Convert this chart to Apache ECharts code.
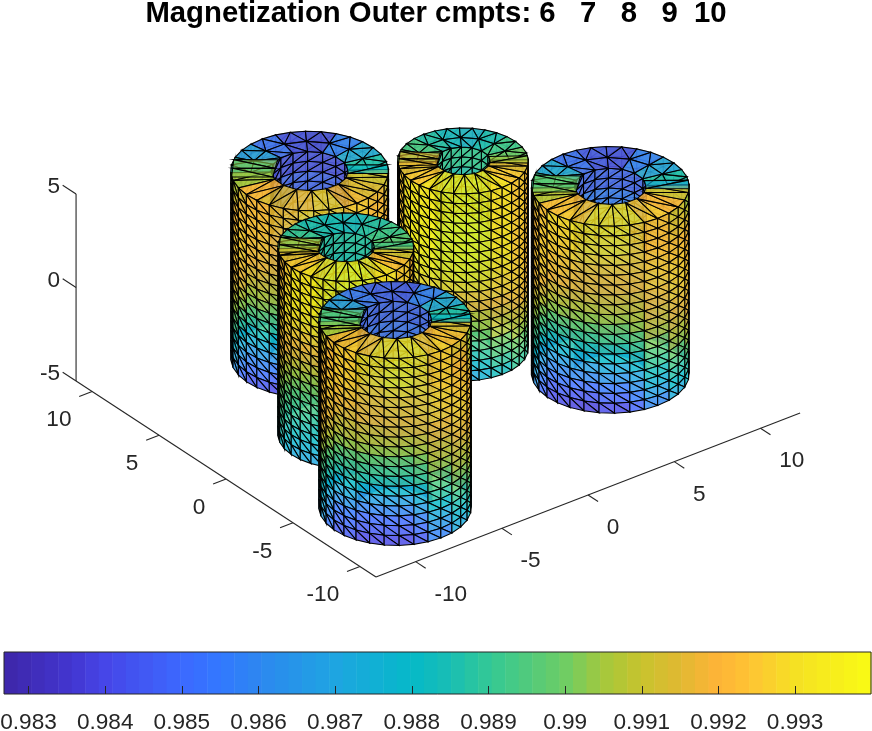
<!DOCTYPE html>
<html><head><meta charset="utf-8">
<style>html,body{margin:0;padding:0;background:#fff}#c{width:872px;height:731px}</style>
<script src="https://cdn.jsdelivr.net/npm/echarts@6/dist/echarts.min.js"></script></head>
<body><div id="c"></div>
<script>
// ---------- chart values ----------
const titleText = 'Magnetization Outer cmpts: 6   7   8   9  10';
const xTicks = [-10,-5,0,5,10], yTicks = [-10,-5,0,5,10], zTicks = [-5,0,5];
const xLim = [-12.3,12.3], yLim = [-11.2,11.2], zLim = [-5,5];
const cbarTicks = [0.983,0.984,0.985,0.986,0.987,0.988,0.989,0.99,0.991,0.992,0.993];
const cbarLim = [0.98268,0.99399];
const cbarStops = [[0.98268,62,38,168],[0.9835,66,52,205],[0.984,70,70,232],[0.985,60,105,255],[0.9855,50,120,255],[0.986,45,135,240],[0.987,30,165,225],[0.988,5,185,200],[0.9885,25,190,180],[0.989,50,200,150],[0.99,110,205,100],[0.9905,165,200,60],[0.991,200,195,45],[0.9915,225,185,50],[0.992,255,180,55],[0.9925,253,200,50],[0.993,245,225,35],[0.99399,249,251,20]];

// cylinders painted back to front: centre x, y, outer radius, hole radius
const cyl1 = [-2.51,6.36,3.62,1.78];
const cyl3 = [3.64,2.83,3.0,1.26];
const cyl4 = [7.59,-3.09,3.62,1.65];
const cyl2 = [-5.44,-0.11,3.12,1.33];
const cyl5 = [-7.7,-6.7,3.5,1.7];

// outer wall, near side: 19 rows top to bottom, 9 sectors left to right
const wall1 = [
[.9908,.9915,.9920,.9925,.9928,.9928,.9925,.9918,.9912],
[.9913,.9918,.9921,.9925,.9928,.9929,.9926,.9920,.9915],
[.9918,.9922,.9922,.9924,.9928,.9930,.9928,.9922,.9918],
[.9921,.9924,.9922,.9922,.9926,.9929,.9928,.9924,.9920],
[.9923,.9925,.9922,.9920,.9924,.9928,.9928,.9925,.9922],
[.9924,.9925,.9921,.9919,.9922,.9926,.9928,.9926,.9923],
[.9924,.9925,.9920,.9918,.9920,.9925,.9927,.9926,.9924],
[.9923,.9923,.9917,.9915,.9917,.9922,.9925,.9926,.9924],
[.9922,.9921,.9914,.9912,.9914,.9919,.9923,.9925,.9924],
[.9918,.9917,.9909,.9907,.9909,.9914,.9920,.9923,.9923],
[.9915,.9910,.9904,.9902,.9904,.9909,.9916,.9921,.9921],
[.9910,.9904,.9898,.9896,.9898,.9904,.9912,.9917,.9918],
[.9905,.9897,.9891,.9889,.9891,.9897,.9906,.9912,.9914],
[.9899,.9889,.9883,.9881,.9883,.9890,.9900,.9907,.9910],
[.9893,.9881,.9875,.9873,.9875,.9882,.9893,.9902,.9905],
[.9886,.9873,.9866,.9864,.9866,.9874,.9886,.9896,.9900],
[.9878,.9865,.9858,.9856,.9858,.9867,.9880,.9891,.9896],
[.9871,.9858,.9851,.9848,.9851,.9860,.9873,.9885,.9891],
[.9864,.9851,.9844,.9840,.9844,.9852,.9866,.9879,.9886]];
const wall2 = [
[.9918,.9926,.9932,.9935,.9936,.9935,.9930,.9925,.9920],
[.9921,.9927,.9932,.9935,.9936,.9935,.9931,.9926,.9922],
[.9924,.9928,.9933,.9935,.9936,.9936,.9932,.9928,.9924],
[.9925,.9929,.9932,.9934,.9935,.9935,.9932,.9928,.9925],
[.9926,.9930,.9930,.9932,.9934,.9934,.9932,.9928,.9925],
[.9926,.9928,.9928,.9929,.9931,.9931,.9930,.9927,.9925],
[.9926,.9926,.9925,.9926,.9928,.9928,.9928,.9926,.9925],
[.9924,.9923,.9921,.9922,.9924,.9925,.9925,.9924,.9924],
[.9921,.9919,.9917,.9917,.9919,.9921,.9922,.9922,.9922],
[.9917,.9914,.9912,.9912,.9914,.9916,.9918,.9919,.9919],
[.9912,.9908,.9906,.9906,.9908,.9910,.9913,.9915,.9916],
[.9907,.9904,.9902,.9902,.9903,.9905,.9909,.9911,.9912],
[.9903,.9900,.9898,.9897,.9898,.9900,.9904,.9907,.9908],
[.9899,.9896,.9894,.9893,.9894,.9896,.9900,.9903,.9904],
[.9896,.9892,.9890,.9889,.9890,.9892,.9896,.9899,.9900],
[.9893,.9889,.9886,.9885,.9886,.9888,.9892,.9895,.9896],
[.9890,.9885,.9882,.9881,.9882,.9884,.9888,.9891,.9892],
[.9886,.9881,.9877,.9876,.9877,.9880,.9884,.9887,.9888],
[.9881,.9876,.9872,.9871,.9872,.9875,.9879,.9883,.9885]];
const wall3 = [
[.9925,.9930,.9934,.9936,.9936,.9934,.9930,.9925,.9922],
[.9925,.9931,.9935,.9937,.9937,.9935,.9930,.9925,.9922],
[.9925,.9932,.9936,.9938,.9938,.9936,.9930,.9926,.9922],
[.9925,.9932,.9936,.9938,.9938,.9936,.9930,.9926,.9922],
[.9925,.9932,.9936,.9938,.9938,.9935,.9930,.9926,.9922],
[.9925,.9931,.9936,.9937,.9937,.9935,.9930,.9925,.9922],
[.9925,.9930,.9935,.9936,.9936,.9934,.9930,.9925,.9922],
[.9925,.9929,.9933,.9934,.9934,.9933,.9929,.9925,.9922],
[.9925,.9928,.9931,.9931,.9931,.9930,.9928,.9925,.9922],
[.9924,.9926,.9928,.9928,.9928,.9928,.9926,.9925,.9922],
[.9923,.9924,.9924,.9924,.9924,.9924,.9925,.9924,.9921],
[.9920,.9920,.9919,.9918,.9918,.9919,.9921,.9922,.9920],
[.9915,.9914,.9912,.9910,.9910,.9912,.9916,.9919,.9918],
[.9908,.9907,.9905,.9903,.9904,.9906,.9911,.9915,.9914],
[.9902,.9900,.9898,.9896,.9898,.9901,.9906,.9911,.9910],
[.9896,.9893,.9891,.9890,.9891,.9895,.9900,.9905,.9905],
[.9889,.9886,.9884,.9883,.9885,.9889,.9895,.9900,.9900],
[.9883,.9880,.9877,.9876,.9878,.9882,.9889,.9895,.9895],
[.9877,.9873,.9871,.9870,.9872,.9876,.9883,.9890,.9890]];
const wall4 = [
[.9915,.9922,.9928,.9930,.9930,.9926,.9918,.9912,.9905],
[.9918,.9924,.9927,.9929,.9929,.9926,.9919,.9914,.9910],
[.9920,.9925,.9926,.9928,.9928,.9925,.9920,.9916,.9915],
[.9921,.9925,.9925,.9926,.9926,.9924,.9921,.9919,.9918],
[.9922,.9925,.9923,.9923,.9923,.9923,.9922,.9922,.9920],
[.9923,.9925,.9922,.9921,.9921,.9921,.9923,.9924,.9922],
[.9923,.9924,.9920,.9919,.9919,.9920,.9923,.9925,.9923],
[.9921,.9921,.9916,.9916,.9916,.9917,.9921,.9925,.9924],
[.9918,.9916,.9911,.9911,.9912,.9914,.9919,.9924,.9924],
[.9914,.9910,.9905,.9905,.9907,.9910,.9916,.9922,.9923],
[.9910,.9903,.9899,.9900,.9901,.9905,.9912,.9919,.9921],
[.9905,.9897,.9892,.9893,.9895,.9899,.9907,.9915,.9919],
[.9900,.9890,.9885,.9886,.9888,.9893,.9901,.9910,.9915],
[.9894,.9883,.9877,.9877,.9880,.9886,.9895,.9905,.9910],
[.9888,.9875,.9868,.9868,.9872,.9879,.9890,.9899,.9905],
[.9881,.9868,.9860,.9860,.9864,.9871,.9883,.9893,.9899],
[.9875,.9861,.9853,.9851,.9855,.9863,.9876,.9887,.9893],
[.9869,.9855,.9846,.9844,.9848,.9856,.9868,.9880,.9887],
[.9864,.9850,.9841,.9838,.9841,.9848,.9860,.9873,.9880]];
const wall5 = [
[.9912,.9918,.9925,.9930,.9932,.9930,.9925,.9915,.9905],
[.9915,.9920,.9925,.9929,.9931,.9929,.9925,.9918,.9909],
[.9918,.9922,.9925,.9928,.9930,.9928,.9925,.9920,.9912],
[.9920,.9923,.9924,.9925,.9927,.9927,.9925,.9922,.9915],
[.9922,.9924,.9922,.9923,.9924,.9925,.9926,.9923,.9918],
[.9922,.9923,.9920,.9921,.9923,.9924,.9925,.9924,.9920],
[.9922,.9922,.9918,.9920,.9921,.9922,.9924,.9925,.9922],
[.9921,.9919,.9915,.9916,.9917,.9918,.9921,.9924,.9922],
[.9920,.9916,.9912,.9912,.9912,.9914,.9918,.9922,.9922],
[.9916,.9911,.9906,.9906,.9906,.9909,.9914,.9919,.9920],
[.9912,.9905,.9900,.9900,.9900,.9903,.9910,.9916,.9918],
[.9906,.9899,.9894,.9894,.9894,.9897,.9905,.9912,.9915],
[.9900,.9893,.9888,.9888,.9888,.9892,.9900,.9908,.9912],
[.9895,.9887,.9880,.9878,.9878,.9884,.9894,.9903,.9907],
[.9890,.9880,.9872,.9868,.9868,.9875,.9888,.9898,.9902],
[.9884,.9872,.9864,.9859,.9859,.9867,.9880,.9891,.9897],
[.9878,.9865,.9855,.9850,.9850,.9858,.9872,.9885,.9892],
[.9873,.9860,.9850,.9845,.9845,.9851,.9865,.9878,.9886],
[.9868,.9855,.9845,.9840,.9840,.9845,.9858,.9872,.9880]];

// top ring: 16 sectors, starting behind the hole, going round the left, the front, the right
const ring1 = [.9840,.9850,.9865,.9885,.9905,.9920,.9915,.9925,.9928,.9918,.9915,.9912,.9885,.9870,.9855,.9838];
const ring2 = [.9880,.9882,.9888,.9895,.9915,.9925,.9930,.9935,.9936,.9930,.9922,.9912,.9895,.9890,.9885,.9878];
const ring3 = [.9878,.9885,.9892,.9900,.9915,.9925,.9932,.9935,.9935,.9932,.9925,.9915,.9898,.9890,.9882,.9875];
const ring4 = [.9842,.9850,.9870,.9890,.9908,.9922,.9925,.9930,.9930,.9925,.9920,.9912,.9885,.9868,.9855,.9840];
const ring5 = [.9845,.9852,.9865,.9888,.9905,.9918,.9925,.9930,.9932,.9926,.9922,.9915,.9885,.9870,.9855,.9843];
// left and right slot in the top ring
const slot1 = [.9903,.9880], slot2 = [.9908,.9893], slot3 = [.9916,.9905], slot4 = [.9900,.9872], slot5 = [.9898,.9880];
// hole wall by row, top to bottom
const hole1 = [.9842,.9848,.9852,.9858,.9865,.9870,.9870,.9868,.9860,.9850];
const hole2 = [.9885,.9882,.9880,.9878,.9878,.9880,.9880,.9878,.9875,.9870];
const hole3 = [.9888,.9884,.9880,.9878,.9880,.9885,.9888,.9888,.9885,.9880];
const hole4 = [.9848,.9855,.9862,.9870,.9875,.9878,.9878,.9874,.9865,.9852];
const hole5 = [.9848,.9852,.9860,.9868,.9875,.9880,.9880,.9875,.9865,.9850];
// far outer wall by row, top to bottom
const back1 = [.9900,.9905,.9908,.9908,.9905,.9900,.9892,.9880,.9865,.9850];
const back2 = [.9905,.9908,.9910,.9910,.9908,.9902,.9896,.9888,.9880,.9870];
const back3 = [.9905,.9910,.9915,.9915,.9912,.9908,.9902,.9895,.9885,.9875];
const back4 = [.9900,.9905,.9908,.9908,.9905,.9900,.9890,.9878,.9862,.9848];
const back5 = [.9900,.9905,.9908,.9908,.9905,.9900,.9890,.9878,.9862,.9848];

// ---------- view ----------
const corner = [376,577], xUnit = [17.24,-6.67], yUnit = [-13.39,-8.75], zUnit = -18.7;
const FACE_ALPHA = 0.82, ROWS = 19, COL_STEP = 11.25, VIEW_FRONT = 232.7;
function project(x,y,z){
  const dx=x-xLim[0], dy=y-yLim[0], dz=z-zLim[0];
  return [corner[0]+dx*xUnit[0]+dy*yUnit[0], corner[1]+dx*xUnit[1]+dy*yUnit[1]+dz*zUnit];
}
function cmap(v){
  const s=cbarStops; if(v<=s[0][0])return s[0].slice(1);
  for(let i=1;i<s.length;i++) if(v<=s[i][0]){const t=(v-s[i-1][0])/(s[i][0]-s[i-1][0]);
    return [1,2,3].map(k=>Math.round(s[i-1][k]+t*(s[i][k]-s[i-1][k])));}
  return s[s.length-1].slice(1);
}
// ---------- mesh ----------
const faces=[];
function tri(v,a,b,c,fa,sa){faces.push({v,p:[a,b,c],fa:fa==null?FACE_ALPHA:fa,sa:sa==null?1:sa});}
function pt(C,r,phi,z){const t=(VIEW_FRONT+phi)*Math.PI/180;return [C[0]+r*Math.cos(t),C[1]+r*Math.sin(t),z];}
function wallBand(C,r,from,count,step,val,lineAlpha){
  for(let c=0;c<count;c++){
    const a=from+c*step,b=a+step,m=(a+b)/2;
    for(let i=0;i<ROWS;i++){
      const zt=5-10*i/ROWS,zb=5-10*(i+1)/ROWS,v=val(i,m),sa=lineAlpha(i);
      const A=pt(C,r,a,zt),B=pt(C,r,b,zt),D=pt(C,r,b,zb),E=pt(C,r,a,zb);
      tri(v,A,B,D,null,sa);tri(v,A,D,E,null,sa);
    }
  }
}
function mix(a,b,t){return [a[0]+(b[0]-a[0])*t,a[1]+(b[1]-a[1])*t,a[2]];}
function addCylinder(C,wall,ring,slot,hole,back){
  const R=C[2],H=C[3],T=zLim[1];
  const tenth=i=>Math.floor(i*10/ROWS);
  wallBand(C,R,92.5,16,COL_STEP,i=>back[tenth(i)],()=>0.35);
  wallBand(C,H,92.5,8,22.5,i=>hole[tenth(i)],i=>i<7?1:0.2);
  for(let s=0;s<16;s++){
    const a=-177.5+22.5*s,b=a+22.5,m=a+11.25,v=ring[s];
    const front=a>=-87.5&&a<92.5, Q=front?H:(H+R)/2;
    tri(v,pt(C,Q,a,T),pt(C,R,a,T),pt(C,R,m,T));
    tri(v,pt(C,Q,a,T),pt(C,R,m,T),pt(C,Q,b,T));
    tri(v,pt(C,Q,b,T),pt(C,R,m,T),pt(C,R,b,T));
    if(!front){
      tri(v,pt(C,H,a,T),pt(C,Q,a,T),pt(C,Q,b,T));
      tri(v,pt(C,H,a,T),pt(C,Q,b,T),pt(C,H,b,T));
    }
  }
  // slots: [outer upper, hole upper, hole lower, outer lower], in stripes
  const ls=[-106.7,-125,-72.5,-81.5], rs=[99,108.4,83,86.5], stripes=[2,1];
  [ls,rs].forEach((q,k)=>{
    const v=slot[k],n=stripes[k],a=pt(C,R,q[0],T),b=pt(C,H,q[1],T),c=pt(C,H,q[2],T),d=pt(C,R,q[3],T);
    for(let j=0;j<n;j++){
      const p1=mix(a,d,j/n),p2=mix(b,c,j/n),p3=mix(b,c,(j+1)/n),p4=mix(a,d,(j+1)/n);
      tri(v,p1,p2,p3,0.6);tri(v,p1,p3,p4,0.6);
    }
  });
  wallBand(C,R,-87.5,16,COL_STEP,(i,m)=>wall[i][Math.min(8,Math.max(0,Math.floor((m+90)/20)))],()=>1);
}
addCylinder(cyl1,wall1,ring1,slot1,hole1,back1);
addCylinder(cyl3,wall3,ring3,slot3,hole3,back3);
addCylinder(cyl4,wall4,ring4,slot4,hole4,back4);
addCylinder(cyl2,wall2,ring2,slot2,hole2,back2);
addCylinder(cyl5,wall5,ring5,slot5,hole5,back5);

// ---------- 3D axes ----------
const [x0,x1]=xLim,[y0,y1]=yLim,[z0,z1]=zLim;
const axisSegs=[[[x0,y0,z0],[x1,y0,z0]],[[x0,y0,z0],[x0,y1,z0]],[[x0,y1,z0],[x0,y1,z1]]];
const axisTexts=[];
xTicks.forEach(t=>{axisSegs.push([[t,y0,z0],[t,y0-0.75,z0]]);axisTexts.push({t:String(t),p:[t,y0-1.4,z0-1.1],a:'left'});});
yTicks.forEach(t=>{axisSegs.push([[x0,t,z0],[x0-0.75,t,z0]]);axisTexts.push({t:String(t),p:[x0-1.2,t,z0-1.1],a:'right'});});
zTicks.forEach(t=>{axisSegs.push([[x0,y1,t],[x0,y1+1,t]]);axisTexts.push({t:String(t),p:[x0,y1+1.2,t-0.2],a:'right'});});

const FONT='"Liberation Sans",Arial,sans-serif';
const cbarN=64, cbarCells=[];
for(let i=0;i<cbarN;i++) cbarCells.push([i]);

const chart=echarts.init(document.getElementById('c'),null,{renderer:'canvas'});
chart.setOption({
  animation:false,
  backgroundColor:'#fff',
  title:{text:titleText,left:'center',top:-6,textStyle:{fontFamily:FONT,fontSize:29.3,fontWeight:'bold',color:'#000'}},
  grid:[
    {left:0,top:0,width:872,height:731,show:false,outerBoundsMode:'none'},
    {left:4,top:652,width:867,height:42,show:true,borderColor:'#262626',borderWidth:1,backgroundColor:'transparent',z:10,outerBoundsMode:'none'}
  ],
  xAxis:[
    {gridIndex:0,type:'value',min:0,max:872,show:false},
    {gridIndex:1,type:'value',min:cbarLim[0],max:cbarLim[1],z:11,
      axisLine:{show:false},splitLine:{show:false},
      axisTick:{show:true,inside:true,length:8,lineStyle:{color:'#262626',width:1},customValues:cbarTicks},
      axisLabel:{show:true,margin:17,fontFamily:FONT,fontSize:22.6,color:'#262626',customValues:cbarTicks,formatter:v=>String(v)}}
  ],
  yAxis:[
    {gridIndex:0,type:'value',min:0,max:731,inverse:true,show:false},
    {gridIndex:1,type:'value',min:0,max:1,show:false}
  ],
  series:[
    {type:'custom',xAxisIndex:0,yAxisIndex:0,silent:true,z:1,progressive:0,clip:false,
     data:axisSegs.map((s,i)=>[i]),
     renderItem:(params,api)=>{const s=axisSegs[api.value(0)];
       const a=api.coord(project(...s[0])),b=api.coord(project(...s[1]));
       return {type:'line',shape:{x1:a[0],y1:a[1],x2:b[0],y2:b[1]},style:{stroke:'#262626',lineWidth:1.1}};}},
    {type:'custom',xAxisIndex:0,yAxisIndex:0,silent:true,z:2,progressive:0,clip:false,
     data:faces.map((f,i)=>[i]),
     renderItem:(params,api)=>{const f=faces[api.value(0)];
       const c=cmap(f.v);
       return {type:'polygon',shape:{points:f.p.map(q=>api.coord(project(...q)))},
         style:{fill:`rgba(${c[0]},${c[1]},${c[2]},${f.fa})`,stroke:`rgba(0,0,0,${f.sa})`,lineWidth:1.05}};}},
    {type:'custom',xAxisIndex:0,yAxisIndex:0,silent:true,z:3,progressive:0,clip:false,
     data:axisTexts.map((s,i)=>[i]),
     renderItem:(params,api)=>{const s=axisTexts[api.value(0)];const a=api.coord(project(...s.p));
       return {type:'text',style:{text:s.t,x:a[0],y:a[1],align:s.a,verticalAlign:'middle',fill:'#262626',font:'22.6px '+FONT}};}},
    {type:'custom',xAxisIndex:1,yAxisIndex:1,silent:true,z:1,progressive:0,
     data:cbarCells,
     renderItem:(params,api)=>{const i=api.value(0),w=(cbarLim[1]-cbarLim[0])/cbarN;
       const lo=cbarLim[0]+i*w,hi=lo+w;const a=api.coord([lo,1]),b=api.coord([hi,0]);const c=cmap(lo+w/2);
       return {type:'rect',shape:{x:a[0],y:a[1],width:b[0]-a[0]+0.5,height:b[1]-a[1]},style:{fill:`rgb(${c[0]},${c[1]},${c[2]})`}};}}
  ]
});
</script></body></html>
